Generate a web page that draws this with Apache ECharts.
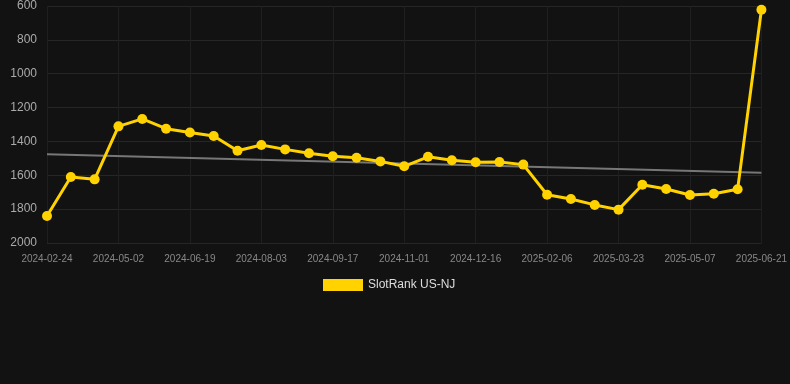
<!DOCTYPE html>
<html>
<head>
<meta charset="utf-8">
<script src="https://cdn.jsdelivr.net/npm/echarts@6/dist/echarts.min.js"></script>
<style>
html,body{margin:0;padding:0;background:#121212;}
#chart{width:790px;height:384px;}
</style>
</head>
<body>
<div id="chart"></div>
<script>
var categories = [
  "2024-02-24","2024-03-17","2024-04-09","2024-05-02","2024-05-17","2024-06-01",
  "2024-06-19","2024-07-04","2024-07-19","2024-08-03","2024-08-18","2024-09-02",
  "2024-09-17","2024-10-02","2024-10-17","2024-11-01","2024-11-16","2024-12-01",
  "2024-12-16","2025-01-03","2025-01-20","2025-02-06","2025-02-21","2025-03-08",
  "2025-03-23","2025-04-07","2025-04-22","2025-05-07","2025-05-22","2025-06-06",
  "2025-06-21"
];
var rankValues = [
  1840, 1610, 1624, 1311, 1267, 1325, 1347, 1368, 1455, 1421, 1447, 1470,
  1488, 1496, 1518, 1547, 1491, 1511, 1523, 1521, 1537, 1715, 1740, 1775,
  1803, 1656, 1681, 1716, 1709, 1683, 622
];
var trendStart = 1476;
var trendEnd = 1585;
var yTicks = { min: 600, max: 2000, interval: 200 };

var chart = echarts.init(document.getElementById('chart'));
chart.setOption({
  backgroundColor: '#121212',
  animation: false,
  grid: { left: 47, right: 28, top: 6, bottom: 141, containLabel: false },
  legend: {
    data: [{ name: 'SlotRank US-NJ', icon: 'rect' }],
    top: 274,
    left: 318,
    itemWidth: 40,
    itemHeight: 12,
    itemGap: 10,
    textStyle: { color: '#dddddd', fontSize: 12, fontFamily: 'Arial, Liberation Sans, sans-serif' }
  },
  xAxis: {
    type: 'category',
    data: categories,
    boundaryGap: false,
    axisLine: { show: false },
    axisTick: { show: false },
    axisLabel: { interval: 2, color: '#888888', fontSize: 10, margin: 11, fontFamily: 'Arial, Liberation Sans, sans-serif' },
    splitLine: { show: true, interval: 2, lineStyle: { color: '#1f1f1f', width: 1 } }
  },
  yAxis: {
    type: 'value',
    inverse: true,
    min: yTicks.min,
    max: yTicks.max,
    interval: yTicks.interval,
    axisLine: { show: false },
    axisTick: { show: false },
    axisLabel: { color: '#aaaaaa', fontSize: 12, margin: 10, fontFamily: 'Arial, Liberation Sans, sans-serif',
      formatter: function (v) { return String(v); } },
    splitLine: { lineStyle: { color: '#262626', width: 1 } }
  },
  series: [
    {
      name: 'SlotRank US-NJ',
      type: 'line',
      data: rankValues,
      symbol: 'circle',
      symbolSize: 10,
      lineStyle: { color: '#ffd200', width: 3 },
      itemStyle: { color: '#ffd200' },
      z: 3,
      markLine: {
        silent: true,
        symbol: ['none', 'none'],
        label: { show: false },
        lineStyle: { color: '#777777', width: 2, type: 'solid' },
        data: [[
          { coord: [categories[0], trendStart] },
          { coord: [categories[categories.length - 1], trendEnd] }
        ]],
        z: 1
      }
    }
  ]
});
</script>
</body>
</html>
